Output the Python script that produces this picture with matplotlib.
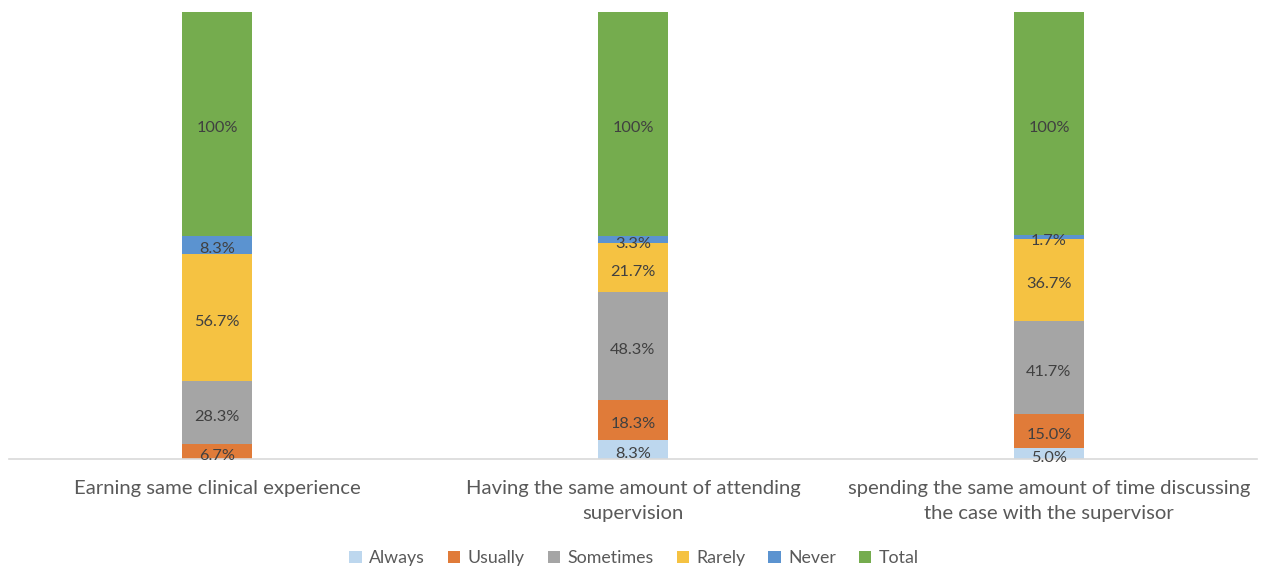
import matplotlib
matplotlib.use("Agg")
import matplotlib.pyplot as plt
import numpy as np

categories = [
    "Earning same clinical experience",
    "Having the same amount of attending\nsupervision",
    "spending the same amount of time discussing\nthe case with the supervisor",
]
series_names = ["Always", "Usually", "Sometimes", "Rarely", "Never", "Total"]
always = [0.0, 8.3, 5.0]
usually = [6.7, 18.3, 15.0]
sometimes = [28.3, 48.3, 41.7]
rarely = [56.7, 21.7, 36.7]
never = [8.3, 3.3, 1.7]
total = [100, 100, 100]
label_fmt = ["{:.1f}%", "{:.1f}%", "{:.1f}%", "{:.1f}%", "{:.1f}%", "{:.0f}%"]

colors = ["#BDD7EE", "#E07B39", "#A5A5A5", "#F5C242", "#5B93D0", "#75AC4E"]

plt.rcParams["font.family"] = ["Lato", "DejaVu Sans"]

fig = plt.figure(figsize=(12.63, 5.71), dpi=100)
ax = fig.add_axes([9 / 1263, 1 - 459 / 571, 1248 / 1263, 447 / 571])

x = np.arange(len(categories))
bottom = np.zeros(len(categories))
for name, vals, col, fmt in zip(series_names,
                                [always, usually, sometimes, rarely, never, total],
                                colors, label_fmt):
    vals = np.array(vals, dtype=float)
    ax.bar(x, vals, width=0.168, bottom=bottom, color=col, label=name,
           edgecolor="none")
    for xi, b, v in zip(x, bottom, vals):
        if v > 0:
            ax.annotate(fmt.format(v), (xi, b + v / 2), xytext=(0, -2),
                        textcoords="offset points", ha="center",
                        va="center_baseline", fontsize=11.8, color="#404040")
    bottom += vals

ax.set_xlim(-0.5, 2.5)
ax.set_ylim(0, 200)
ax.set_yticks([])
ax.set_xticks(x)
ax.set_xticklabels(categories, fontsize=14.6, color="#595959", linespacing=1.55)
ax.tick_params(axis="x", length=0, pad=15)
for s in ["top", "right", "left"]:
    ax.spines[s].set_visible(False)
ax.spines["bottom"].set_color("#D9D9D9")
ax.spines["bottom"].set_linewidth(1.2)

handles, labels = ax.get_legend_handles_labels()
fig.legend(handles, labels, loc="center", bbox_to_anchor=(634 / 1263, 1 - 558 / 571),
           ncol=6, frameon=False, fontsize=12.8, handlelength=0.7, handleheight=0.7,
           handletextpad=0.4, columnspacing=1.3, labelcolor="#595959")

fig.savefig("out.png", dpi=100)
